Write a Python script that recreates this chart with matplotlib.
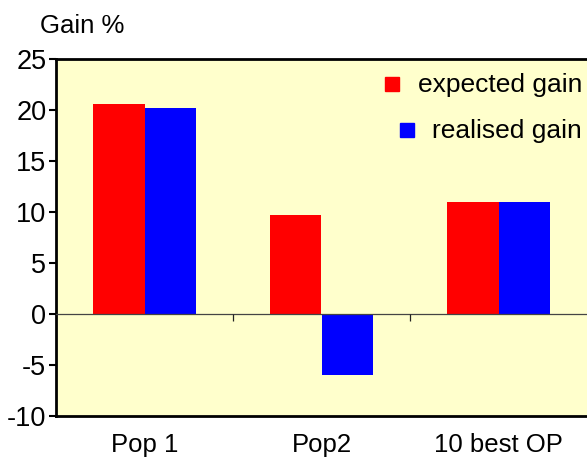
import numpy as np
import matplotlib.pyplot as plt

plt.rcParams['font.family'] = ['Liberation Sans', 'DejaVu Sans']
plt.rcParams['axes.unicode_minus'] = False

categories = ['Pop 1', 'Pop2', '10 best OP']
expected_gain = [20.6, 9.7, 11.0]
realised_gain = [20.2, -6.0, 11.0]

fig = plt.figure(figsize=(5.87, 4.61), dpi=100)
ax = fig.add_axes([56/587, 45/461, 1 - 56/587, (416-59)/461])
ax.set_facecolor('#FFFFCC')

x = np.arange(len(categories)) + 0.5
w = 0.29
ax.bar(x - w/2, expected_gain, w, color='#FF0000')
ax.bar(x + w/2, realised_gain, w, color='#0000FF')

# zero axis with category separators
ax.axhline(0, color='#444444', lw=0.9, zorder=3)
sep = np.arange(1, len(categories))
ax.plot(sep, np.zeros(len(sep)), ls='', marker=3, ms=5, mew=0.9, color='#222222', zorder=3)

ax.set_xlim(0, len(categories))
ax.set_ylim(-10, 25)
ax.set_yticks(np.arange(-10, 26, 5))
ax.set_xticks(x)
ax.set_xticklabels(categories)
ax.tick_params(axis='x', length=0, pad=12, labelsize=18.5)
ax.tick_params(axis='y', length=5, width=1.5, pad=2, labelsize=19.5)

for s in ['left', 'top', 'bottom']:
    ax.spines[s].set_linewidth(2)
ax.spines['right'].set_visible(False)

fig.text(40/587, 1 - 33/461, 'Gain %', fontsize=18.5, ha='left', va='baseline')

# legend, placed in pixel terms of the plot frame
tr = ax.transAxes
def px(xp, yp):
    return ((xp - 56) / (587 - 56), (416 - yp) / (416 - 59))
ax.plot(*px(391.5, 84.5), marker='s', ms=9.5, color='#FF0000', transform=tr, ls='')
ax.plot(*px(406.5, 130.5), marker='s', ms=9.5, color='#0000FF', transform=tr, ls='')
ax.text(*px(582, 85), 'expected gain', transform=tr, ha='right', va='center', fontsize=19)
ax.text(*px(582, 131), 'realised gain', transform=tr, ha='right', va='center', fontsize=19)

fig.savefig('out.png', dpi=100)
